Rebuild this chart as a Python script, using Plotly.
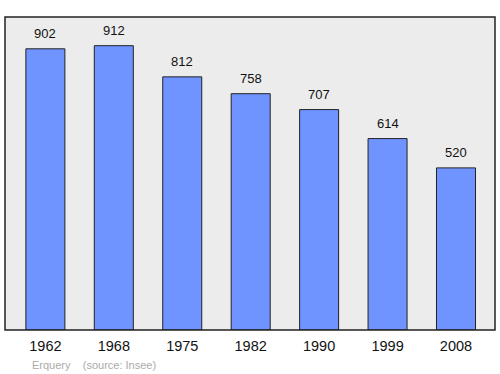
import plotly.graph_objects as go

years = ["1962", "1968", "1975", "1982", "1990", "1999", "2008"]
population = [902, 912, 812, 758, 707, 614, 520]
place = "Erquery"
source = "(source: Insee)"

xs = list(range(len(years)))

fig = go.Figure()
fig.add_trace(go.Bar(
    x=xs, y=population, width=0.57,
    marker=dict(color="#7094ff", line=dict(color="#222222", width=1)),
    hoverinfo="skip",
))
for x, v in zip(xs, population):
    fig.add_annotation(x=x, y=v, text=str(v), showarrow=False, yanchor="bottom",
                       yshift=6, font=dict(family="Liberation Sans, Arial", size=13, color="#111"))

fig.add_annotation(xref="paper", yref="paper", x=0.051, y=-0.112, xanchor="left", yanchor="middle",
                   text=place + "&nbsp;&nbsp;&nbsp;&nbsp;" + source, showarrow=False,
                   font=dict(family="Liberation Sans, Arial", size=11, color="#aaaaaa"))

fig.update_layout(
    width=500, height=374,
    margin=dict(l=5, r=5, t=17, b=44),
    paper_bgcolor="white", plot_bgcolor="#ececec",
    showlegend=False,
    xaxis=dict(range=[-0.59, 6.57], tickvals=xs, ticktext=years, showgrid=False, zeroline=False,
               tickfont=dict(family="Liberation Sans, Arial", size=14.5, color="#111"),
               ticks="outside", ticklen=3, tickcolor="rgba(0,0,0,0)", fixedrange=True),
    yaxis=dict(range=[0, 1004], showgrid=False, zeroline=False, showticklabels=False, ticks=""),
    shapes=[dict(type="rect", xref="paper", yref="paper", x0=0, y0=0, x1=1, y1=1,
                 line=dict(color="#222222", width=1.5))],
)
fig.write_html("out.html")
